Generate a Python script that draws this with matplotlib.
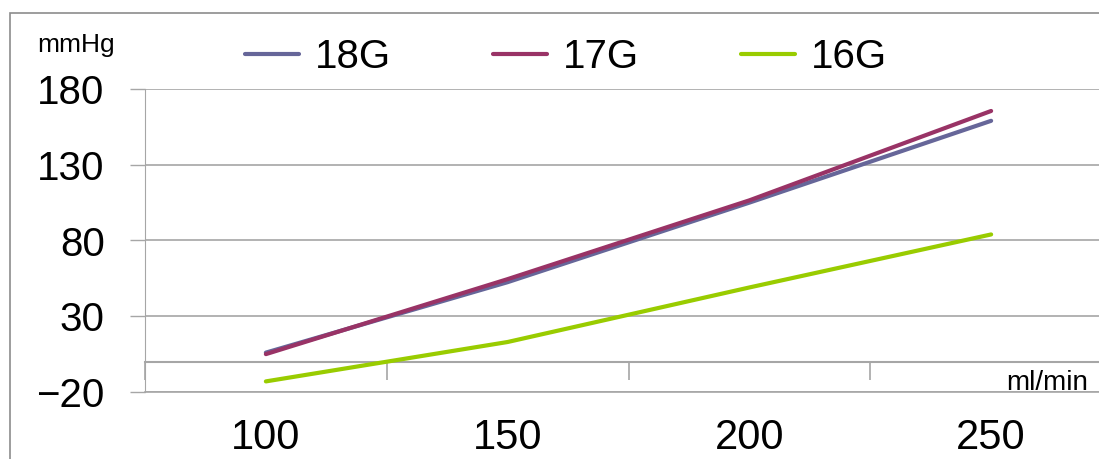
import matplotlib.pyplot as plt
from matplotlib.patches import Rectangle

flow_rates = ["100", "150", "200", "250"]
series_names = ["18G", "17G", "16G"]
pressure_18g = [6, 52.5, 105, 159]
pressure_17g = [5, 54.5, 106.5, 165.5]
pressure_16g = [-13, 13, 49, 84]
colors = ["#666699", "#993366", "#99CC00"]
y_ticks = [-20, 30, 80, 130, 180]

plt.rcParams["font.family"] = ["Liberation Sans", "DejaVu Sans"]
grid_color = "#A6A6A6"

fig = plt.figure(figsize=(10.99, 4.59), dpi=100)
# plot area runs past the right edge of the figure
ax = fig.add_axes([145 / 1099, 67 / 459, 967 / 1099, 303 / 459])

x = range(len(flow_rates))
for values, name, color in zip([pressure_18g, pressure_17g, pressure_16g], series_names, colors):
    ax.plot(x, values, color=color, lw=3, label=name, solid_capstyle="round", zorder=3)

ax.set_xlim(-0.5, len(flow_rates) - 0.5)
ax.set_ylim(-20, 180)
ax.set_yticks(y_ticks)
ax.set_yticklabels([str(v) if v >= 0 else "\u2212" + str(-v) for v in y_ticks])
ax.tick_params(axis="y", length=11, width=1, color=grid_color, labelsize=29, pad=18)
ax.yaxis.grid(True, color=grid_color, lw=1.2)
ax.set_axisbelow(True)

ax.set_xticks(list(x))
ax.set_xticklabels(flow_rates)
ax.tick_params(axis="x", length=0, labelsize=30, pad=19)

for side in ["top", "right"]:
    ax.spines[side].set_visible(False)
ax.spines["left"].set_color(grid_color)
ax.spines["bottom"].set_color(grid_color)
ax.spines["bottom"].set_linewidth(1.2)

# category axis crossing at zero, ticks between categories
zero_axis = ax.secondary_xaxis(0.1)
zero_axis.set_xticks([i - 0.5 for i in range(len(flow_rates) + 1)])
zero_axis.set_xticklabels([])
zero_axis.tick_params(axis="x", direction="out", length=13, width=1.2, color=grid_color)
zero_axis.spines["bottom"].set_color(grid_color)
zero_axis.spines["bottom"].set_linewidth(1.5)

fig.text(37 / 1099, 1 - 45 / 459, "mmHg", fontsize=19, va="center", ha="left")
fig.text(1088 / 1099, 1 - 383 / 459, "ml/min", fontsize=20, va="center", ha="right")

fig.legend(loc="center", bbox_to_anchor=(566 / 1099, 1 - 57 / 459), ncol=3, frameon=False,
           fontsize=29, handlelength=1.35, handletextpad=0.4, columnspacing=2.52)

fig.patches.append(Rectangle((10 / 1099, -0.1), 1.2, 1.1 - 13 / 459, transform=fig.transFigure,
                             fill=False, edgecolor="#8C8C8C", lw=1.2))

fig.savefig("out.png", dpi=100)
